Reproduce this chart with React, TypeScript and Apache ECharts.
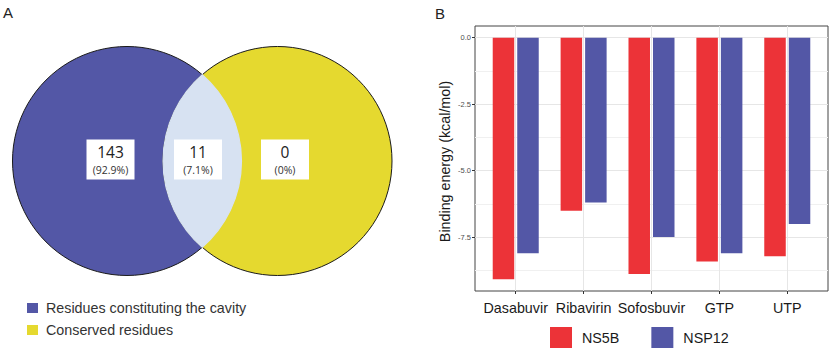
import React, { useEffect, useRef } from 'react';
import * as echarts from 'echarts';

// Panel A: Venn diagram
const vennSets = ['Residues constituting the cavity', 'Conserved residues'];
const vennCounts = [143, 11, 0];
const vennPercents = ['(92.9%)', '(7.1%)', '(0%)'];

// Panel B: binding energies
const drugs = ['Dasabuvir', 'Ribavirin', 'Sofosbuvir', 'GTP', 'UTP'];
const seriesNames = ['NS5B', 'NSP12'];
const ns5b = [-9.08, -6.5, -8.88, -8.41, -8.21];
const nsp12 = [-8.1, -6.19, -7.49, -8.1, -7.0];
const yMajor = [-7.5, -5, -2.5, 0];
const yRange = [-9.52, 0.44];
const yGridRange = [-10, 1.25];
const yGridStep = 1.25;

const RED = '#ec3338';
const BLUE = '#5357a6';
const YELLOW = '#e5d92f';
const LENS = '#d7e2f2';
const ARIAL = '"Liberation Sans", Arial, sans-serif';
const SANS = '"Open Sans", "Noto Sans", sans-serif';

export default function App() {
  const ref = useRef<HTMLDivElement>(null);
  useEffect(() => {
    if (!ref.current) return;
    const chart = echarts.init(ref.current, null, { renderer: 'svg' });

    // Venn geometry
    const r = 114.5;
    const c1 = [127, 161];
    const c2 = [277.5, 161];
    const hx = (c2[0] - c1[0]) / 2;
    const hy = Math.sqrt(r * r - hx * hx);
    const px = c1[0] + hx;
    const lensD = `M${px} ${c1[1] - hy} A${r} ${r} 0 0 1 ${px} ${c1[1] + hy} A${r} ${r} 0 0 1 ${px} ${c1[1] - hy} Z`;
    echarts.graphic.registerShape('vennLens', echarts.graphic.extendPath(lensD, {}) as any);

    const boxCx = [110.5, 198, 285];
    const g: any[] = [];
    g.push({ type: 'circle', shape: { cx: c1[0], cy: c1[1], r }, style: { fill: BLUE, stroke: '#1a1a1a', lineWidth: 1 } });
    g.push({ type: 'circle', shape: { cx: c2[0], cy: c2[1], r }, style: { fill: YELLOW, stroke: '#1a1a1a', lineWidth: 1 } });
    g.push({ type: 'vennLens', x: 0, y: 0, style: { fill: LENS, stroke: LENS, lineWidth: 1.2 } });
    vennCounts.forEach((cnt, i) => {
      g.push({ type: 'rect', shape: { x: boxCx[i] - 24, y: 139.5, width: 48, height: 40 }, style: { fill: '#ffffff' } });
      g.push({ type: 'text', x: boxCx[i], y: 151.5, style: { text: String(cnt), fontSize: 15.5, fontFamily: SANS, fill: '#222', align: 'center', verticalAlign: 'middle' } });
      g.push({ type: 'text', x: boxCx[i], y: 169.5, style: { text: vennPercents[i], fontSize: 10.5, fontFamily: SANS, fill: '#333', align: 'center', verticalAlign: 'middle' } });
    });
    const legendColors = [BLUE, YELLOW];
    vennSets.forEach((name, i) => {
      const y = 303 + i * 22;
      g.push({ type: 'rect', shape: { x: 27, y, width: 11, height: 10 }, style: { fill: legendColors[i] } });
      g.push({ type: 'text', x: 46, y: y + 5, style: { text: name, fontSize: 14.3, fontFamily: ARIAL, fill: '#333', verticalAlign: 'middle' } });
    });
    g.push({ type: 'text', x: 3, y: 12.5, style: { text: 'A', fontSize: 15, fontFamily: ARIAL, fill: '#222', verticalAlign: 'middle' } });
    g.push({ type: 'text', x: 435, y: 13, style: { text: 'B', fontSize: 15, fontFamily: ARIAL, fill: '#222', verticalAlign: 'middle' } });
    g.push({ type: 'text', x: 445, y: 161.5, rotation: Math.PI / 2, style: { text: 'Binding energy (kcal/mol)', fontSize: 14.3, fontFamily: ARIAL, fill: '#1a1a1a', align: 'center', verticalAlign: 'middle' } });

    const gridLineColor = '#e6e6e6';
    const vLines = drugs.map((d) => ({ xAxis: d, lineStyle: { color: gridLineColor, width: 1, type: 'solid' } }));

    const plotTop = 26;
    const plotH = 265;
    const plotLeft = 475;
    const plotW = 353;
    const band = plotW / 5.2;
    const pxPerUnit = plotH / (yRange[1] - yRange[0]);
    const gTop = plotTop - (yGridRange[1] - yRange[1]) * pxPerUnit;
    const gH = (yGridRange[1] - yGridRange[0]) * pxPerUnit;

    chart.setOption({
      animation: false,
      backgroundColor: '#ffffff',
      textStyle: { fontFamily: ARIAL },
      graphic: g,
      legend: {
        data: seriesNames,
        left: 550,
        top: 327,
        padding: 0,
        itemWidth: 22,
        itemHeight: 21,
        itemGap: 32,
        icon: 'rect',
        textStyle: { fontSize: 14.3, color: '#1a1a1a', fontFamily: ARIAL, padding: [0, 0, 0, 5] },
      },
      grid: [
        // horizontal grid lines (extended range so ticks fall on 1.25 steps)
        { left: plotLeft, top: gTop, width: plotW, height: gH, containLabel: false },
        // bars
        { left: plotLeft + 0.1 * band, top: plotTop, width: 5 * band, height: plotH, containLabel: false },
        // frame + y labels
        { left: plotLeft, top: plotTop, width: plotW, height: plotH, show: true, borderColor: '#444', borderWidth: 1, backgroundColor: 'transparent', containLabel: false },
      ],
      xAxis: [
        { type: 'value', gridIndex: 0, min: 0, max: 1, show: false },
        {
          type: 'category',
          gridIndex: 1,
          data: drugs,
          boundaryGap: true,
          axisLine: { show: false, onZero: false },
          axisTick: { show: true, alignWithLabel: true, length: 3, lineStyle: { color: '#333' } },
          axisLabel: { interval: 0, fontSize: 14.3, color: '#1a1a1a', margin: 10, fontFamily: ARIAL },
          splitLine: { show: false },
        },
        { type: 'value', gridIndex: 2, min: 0, max: 1, show: false },
      ],
      yAxis: [
        {
          type: 'value',
          gridIndex: 0,
          min: yGridRange[0],
          max: yGridRange[1],
          interval: yGridStep,
          axisLine: { show: false },
          axisTick: { show: false },
          axisLabel: { show: false },
          splitLine: { show: true, showMinLine: false, showMaxLine: false, lineStyle: { color: ['#f0f0f0', gridLineColor], width: 1 } },
        },
        {
          type: 'value',
          gridIndex: 1,
          min: yRange[0],
          max: yRange[1],
          show: false,
          splitLine: { show: false },
        },
        {
          type: 'value',
          gridIndex: 2,
          min: yRange[0],
          max: yRange[1],
          axisLine: { show: false },
          axisTick: { show: true, length: 3, customValues: yMajor, lineStyle: { color: '#333' } },
          axisLabel: { show: true, customValues: yMajor, fontSize: 7.5, color: '#4d4d4d', margin: 4, formatter: (v: number) => v.toFixed(1) },
          splitLine: { show: false },
        },
      ],
      series: [
        {
          type: 'line',
          xAxisIndex: 1,
          yAxisIndex: 1,
          data: [],
          z: 1,
          silent: true,
          markLine: { silent: true, symbol: ['none', 'none'], label: { show: false }, animation: false, data: vLines },
        },
        {
          name: seriesNames[0],
          type: 'bar',
          xAxisIndex: 1,
          yAxisIndex: 1,
          data: ns5b,
          barWidth: 21.5,
          barGap: '14%',
          z: 3,
          itemStyle: { color: RED },
        },
        {
          name: seriesNames[1],
          type: 'bar',
          xAxisIndex: 1,
          yAxisIndex: 1,
          data: nsp12,
          barWidth: 21.5,
          barGap: '14%',
          z: 3,
          itemStyle: { color: BLUE },
        },
      ],
    });
    return () => chart.dispose();
  }, []);
  return <div ref={ref} style={{ position: 'fixed', left: 0, top: 0, width: 834, height: 354 }} />;
}
